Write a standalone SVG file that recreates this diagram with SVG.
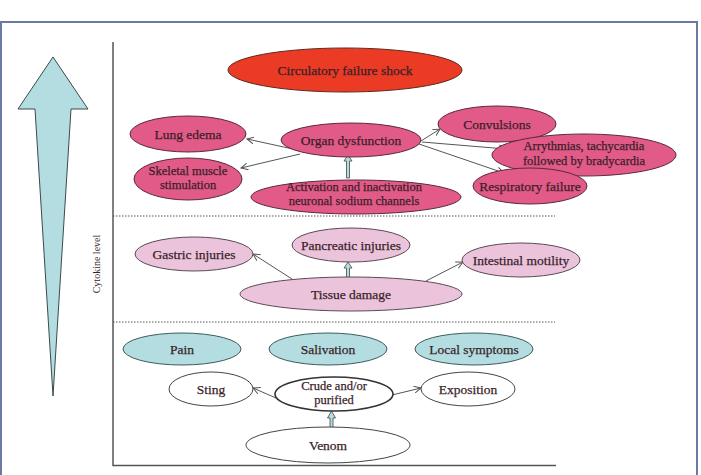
<svg xmlns="http://www.w3.org/2000/svg" width="701" height="475" viewBox="0 0 701 475">
<style>
text{font-family:"Liberation Serif","Times New Roman",serif;font-size:13.5px;fill:#3a1f2a;stroke:#3a1f2a;stroke-width:0.25;text-anchor:middle}
text.two{font-size:12.5px}
.red{fill:#ec3b24;stroke:#5a2a20;stroke-width:1}
.pink{fill:#e25a87;stroke:#5a2a3a;stroke-width:1}
.lpink{fill:#ebc4dc;stroke:#5a4a55;stroke-width:1}
.teal{fill:#b3dde0;stroke:#3f5a5a;stroke-width:1}
.white{fill:#ffffff;stroke:#444;stroke-width:1}
.conn{stroke:#555;stroke-width:1;fill:none;marker-end:url(#ah)}
.blk{fill:#b3dde0;stroke:#444;stroke-width:0.8}
.dot{stroke:#555;stroke-width:1;stroke-dasharray:1.5 1.5}
</style>
<defs>
<marker id="ah" markerWidth="8" markerHeight="8" refX="7" refY="4" orient="auto" markerUnits="userSpaceOnUse">
<path d="M0,0.5 L7,4 L0,7.5" fill="none" stroke="#555" stroke-width="1"/>
</marker>
</defs>
<rect width="701" height="475" fill="#fff"/>
<rect x="1" y="22" width="696" height="470" fill="none" stroke="#6a7aa5" stroke-width="2"/>
<g id="axis">
<polygon points="53,57 88,109 71,109 53,396 35,109 18,109" fill="#b3dde0" stroke="#3a4a4a" stroke-width="1"/>
<path d="M113,42 V465.5 H556" fill="none" stroke="#555" stroke-width="1.5"/>
<line class="dot" x1="113" y1="216" x2="555" y2="216"/>
<line class="dot" x1="113" y1="322" x2="555" y2="322"/>
<text transform="translate(100,264) rotate(-90)" style="font-size:10px;stroke:none">Cytokine level</text>
</g>
<g id="connectors">
<line class="conn" x1="302" y1="151" x2="247" y2="139"/>
<line class="conn" x1="300" y1="154" x2="241" y2="168"/>
<line class="conn" x1="421" y1="141" x2="440" y2="129"/>
<line class="conn" x1="422" y1="142" x2="506" y2="149"/>
<line class="conn" x1="419" y1="144" x2="504" y2="173"/>
<polygon class="blk" points="346.5,178 346.5,161 344,161 348,155 352,161 349.5,161 349.5,178"/>
<line class="conn" x1="292" y1="279" x2="253" y2="254"/>
<line class="conn" x1="426" y1="281" x2="463" y2="262"/>
<polygon class="blk" points="346.5,281 346.5,268 344,268 348,262 352,268 349.5,268 349.5,281"/>
<line class="conn" x1="276" y1="398" x2="253" y2="388"/>
<line class="conn" x1="392" y1="395" x2="421" y2="388"/>
<polygon class="blk" points="330,432 330,418 327.5,418 331.5,411 335.5,418 333,418 333,432"/>
</g>
<g id="circulatory"><ellipse class="red" cx="345" cy="70" rx="117" ry="22"/><text x="345" y="75">Circulatory failure shock</text></g>
<g id="lung"><ellipse class="pink" cx="188" cy="134" rx="58" ry="18"/><text x="188" y="139">Lung edema</text></g>
<g id="organ"><ellipse class="pink" cx="351" cy="140" rx="70" ry="17"/><text x="351" y="145">Organ dysfunction</text></g>
<g id="convulsions"><ellipse class="pink" cx="497" cy="124" rx="59" ry="18"/><text x="497" y="129">Convulsions</text></g>
<g id="arrythmias"><ellipse class="pink" cx="584" cy="155" rx="92" ry="21"/><text class="two" x="584" y="150">Arrythmias, tachycardia</text><text class="two" x="584" y="165">followed by bradycardia</text></g>
<g id="skeletal"><ellipse class="pink" cx="188" cy="179" rx="54" ry="21"/><text class="two" x="188" y="175">Skeletal muscle</text><text class="two" x="188" y="189">stimulation</text></g>
<g id="activation"><ellipse class="pink" cx="356" cy="197" rx="105" ry="17"/><text class="two" x="354" y="191">Activation and inactivation</text><text class="two" x="354" y="205">neuronal sodium channels</text></g>
<g id="respiratory"><ellipse class="pink" cx="530" cy="186" rx="57" ry="18"/><text x="530" y="191">Respiratory failure</text></g>
<g id="gastric"><ellipse class="lpink" cx="194" cy="254" rx="59" ry="17"/><text x="194" y="259">Gastric injuries</text></g>
<g id="pancreatic"><ellipse class="lpink" cx="351" cy="245" rx="59" ry="17"/><text x="351" y="250">Pancreatic injuries</text></g>
<g id="intestinal"><ellipse class="lpink" cx="521" cy="260" rx="59" ry="17"/><text x="521" y="265">Intestinal motility</text></g>
<g id="tissue"><ellipse class="lpink" cx="351" cy="294" rx="111" ry="17"/><text x="351" y="299">Tissue damage</text></g>
<g id="pain"><ellipse class="teal" cx="182" cy="349" rx="59" ry="16"/><text x="182" y="354">Pain</text></g>
<g id="salivation"><ellipse class="teal" cx="328" cy="349" rx="59" ry="16"/><text x="328" y="354">Salivation</text></g>
<g id="local"><ellipse class="teal" cx="474" cy="349" rx="59" ry="16"/><text x="474" y="354">Local symptoms</text></g>
<g id="sting"><ellipse class="white" cx="211" cy="389" rx="42" ry="17"/><text x="211" y="394">Sting</text></g>
<g id="crude"><ellipse cx="334" cy="394" rx="59" ry="17" fill="#fff" stroke="#333" stroke-width="1.6"/><text class="two" x="334" y="390">Crude and/or</text><text class="two" x="334" y="404">purified</text></g>
<g id="exposition"><ellipse class="white" cx="468" cy="389" rx="47" ry="17"/><text x="468" y="394">Exposition</text></g>
<g id="venom"><ellipse class="white" cx="328" cy="445" rx="82" ry="18"/><text x="328" y="450">Venom</text></g>
</svg>
